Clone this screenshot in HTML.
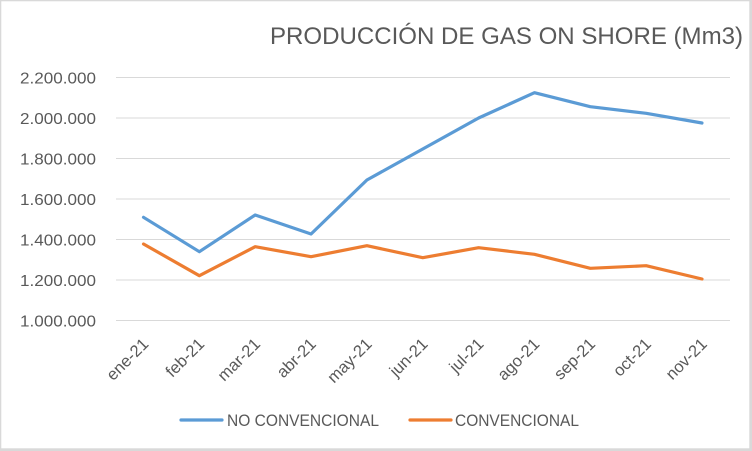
<!DOCTYPE html>
<html><head><meta charset="utf-8"><style>
html,body{margin:0;padding:0;background:#fff;}
svg{display:block;}
text{font-family:"Liberation Sans",sans-serif;fill:#595959;}
</style></head><body>
<svg width="752" height="451" viewBox="0 0 752 451" xmlns="http://www.w3.org/2000/svg">
<rect x="0" y="0" width="752" height="451" fill="#d9d9d9"/>
<rect x="1.3" y="1.3" width="748" height="447" fill="#ffffff"/>
<text x="270" y="44" font-size="24" textLength="473" lengthAdjust="spacingAndGlyphs">PRODUCCIÓN DE GAS ON SHORE (Mm3)</text>
<g stroke="#d9d9d9" stroke-width="1">
<line x1="116" y1="77.5" x2="730" y2="77.5"/>
<line x1="116" y1="118" x2="730" y2="118"/>
<line x1="116" y1="158.5" x2="730" y2="158.5"/>
<line x1="116" y1="199" x2="730" y2="199"/>
<line x1="116" y1="239.5" x2="730" y2="239.5"/>
<line x1="116" y1="280" x2="730" y2="280"/>
<line x1="116" y1="320.5" x2="730" y2="320.5"/>
</g>
<g font-size="16" text-anchor="end">
<text x="96" y="83.5" textLength="76" lengthAdjust="spacingAndGlyphs">2.200.000</text>
<text x="96" y="124" textLength="76" lengthAdjust="spacingAndGlyphs">2.000.000</text>
<text x="96" y="164.5" textLength="76" lengthAdjust="spacingAndGlyphs">1.800.000</text>
<text x="96" y="205" textLength="76" lengthAdjust="spacingAndGlyphs">1.600.000</text>
<text x="96" y="245.5" textLength="76" lengthAdjust="spacingAndGlyphs">1.400.000</text>
<text x="96" y="286" textLength="76" lengthAdjust="spacingAndGlyphs">1.200.000</text>
<text x="96" y="326.5" textLength="76" lengthAdjust="spacingAndGlyphs">1.000.000</text>
</g>
<g font-size="16.5" text-anchor="end">
<text transform="translate(149.5,345) rotate(-45)">ene-21</text>
<text transform="translate(205.35,345) rotate(-45)">feb-21</text>
<text transform="translate(261.2,345) rotate(-45)">mar-21</text>
<text transform="translate(317.05,345) rotate(-45)">abr-21</text>
<text transform="translate(372.9,345) rotate(-45)">may-21</text>
<text transform="translate(428.75,345) rotate(-45)">jun-21</text>
<text transform="translate(484.6,345) rotate(-45)">jul-21</text>
<text transform="translate(540.45,345) rotate(-45)">ago-21</text>
<text transform="translate(596.3,345) rotate(-45)">sep-21</text>
<text transform="translate(652.15,345) rotate(-45)">oct-21</text>
<text transform="translate(708,345) rotate(-45)">nov-21</text>
</g>
<polyline fill="none" stroke="#5B9BD5" stroke-width="3.2" stroke-linejoin="round" stroke-linecap="round"
 points="143.5,217.3 199.35,251.7 255.2,215 311.05,234 366.9,180 422.75,149 478.6,118 534.45,92.7 590.3,106.7 646.15,113.3 702,123"/>
<polyline fill="none" stroke="#ED7D31" stroke-width="3.2" stroke-linejoin="round" stroke-linecap="round"
 points="143.5,244 199.35,275.7 255.2,246.7 311.05,256.7 366.9,245.7 422.75,257.7 478.6,247.7 534.45,254.3 590.3,268.3 646.15,265.7 702,279"/>
<line x1="181" y1="420" x2="222" y2="420" stroke="#5B9BD5" stroke-width="3.2" stroke-linecap="round"/>
<text x="227" y="426" font-size="16.5" textLength="152" lengthAdjust="spacingAndGlyphs">NO CONVENCIONAL</text>
<line x1="410" y1="420" x2="451" y2="420" stroke="#ED7D31" stroke-width="3.2" stroke-linecap="round"/>
<text x="455" y="426" font-size="16.5" textLength="124" lengthAdjust="spacingAndGlyphs">CONVENCIONAL</text>
</svg>
</body></html>
